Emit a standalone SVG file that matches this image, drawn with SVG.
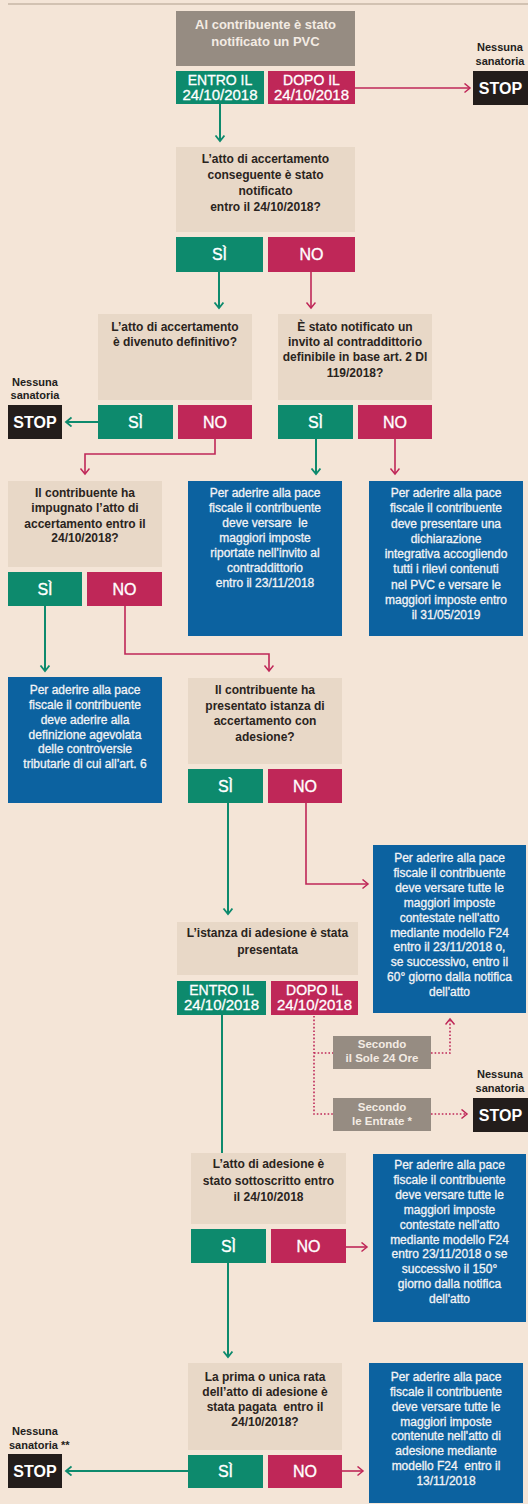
<svg xmlns="http://www.w3.org/2000/svg" width="528" height="1504" viewBox="0 0 528 1504">
<defs>
<style>
text{font-family:"Liberation Sans",Arial,sans-serif;text-anchor:middle}
.q{fill:#e8d8c7}
.gr{fill:#968c82}
.g{fill:#0d8a6d}
.m{fill:#bf2758}
.b{fill:#0c62a0}
.k{fill:#231d1b}
.qt{font-size:12px;font-weight:bold;fill:#2a2420}
.bt{font-size:12px;fill:#f3f3f5;stroke:#f3f3f5;stroke-width:0.3}
.wt{font-size:13px;font-weight:bold;fill:#f3ebe3}
.st{font-size:11.5px;font-weight:bold;fill:#f3ebe3}
.yn{font-size:16px;fill:#fff;stroke:#fff;stroke-width:0.35}
.d1{font-size:14px;fill:#fff;stroke:#fff;stroke-width:0.3}
.d2{font-size:15px;fill:#fff;stroke:#fff;stroke-width:0.3}
.stop{font-size:16px;font-weight:bold;fill:#fff}
.ns{font-size:11px;font-weight:bold;fill:#231d1b}
.cg{stroke:#0d8a6d;stroke-width:2;fill:none}
.cm{stroke:#bf2758;stroke-width:1.6;fill:none}
.cd{stroke:#bf2758;stroke-width:1.6;fill:none;stroke-dasharray:1.6 2}
</style>
<marker id="ag" markerUnits="userSpaceOnUse" markerWidth="8" markerHeight="12" refX="6" refY="5" orient="auto"><path d="M0.5,0.5 L6,5 L0.5,9.5" fill="none" stroke="#0d8a6d" stroke-width="1.8"/></marker>
<marker id="am" markerUnits="userSpaceOnUse" markerWidth="8" markerHeight="12" refX="6" refY="5" orient="auto"><path d="M0.5,0.5 L6,5 L0.5,9.5" fill="none" stroke="#bf2758" stroke-width="1.5"/></marker>
</defs>
<rect width="528" height="1504" fill="#f4e5d7"/>
<line x1="8" y1="4" x2="528" y2="4" stroke="#c7b6a6" stroke-width="1.5"/>

<g id="connectors">
<line class="cg" x1="220" y1="104" x2="220" y2="141" marker-end="url(#ag)"/>
<line class="cm" x1="355" y1="88" x2="470" y2="88" marker-end="url(#am)"/>
<line class="cg" x1="219" y1="272" x2="219" y2="308" marker-end="url(#ag)"/>
<line class="cm" x1="311" y1="272" x2="311" y2="308" marker-end="url(#am)"/>
<line class="cg" x1="98" y1="422" x2="66" y2="422" marker-end="url(#ag)"/>
<polyline class="cm" points="215,439 215,454 85,454 85,474" marker-end="url(#am)"/>
<line class="cg" x1="316" y1="439" x2="316" y2="474" marker-end="url(#ag)"/>
<line class="cm" x1="395" y1="439" x2="395" y2="474" marker-end="url(#am)"/>
<line class="cg" x1="45" y1="606" x2="45" y2="671" marker-end="url(#ag)"/>
<polyline class="cm" points="125,606 125,654 269,654 269,671" marker-end="url(#am)"/>
<line class="cg" x1="228" y1="803" x2="228" y2="914" marker-end="url(#ag)"/>
<polyline class="cm" points="306,803 306,884 368,884" marker-end="url(#am)"/>
<line class="cg" x1="222" y1="1015" x2="222" y2="1153"/>
<polyline class="cd" points="314,1016 314,1114 333,1114"/>
<line class="cd" x1="314" y1="1053" x2="333" y2="1053"/>
<polyline class="cd" points="431,1053 450,1053 450,1019" marker-end="url(#am)"/>
<line class="cd" x1="431" y1="1114" x2="467" y2="1114" marker-end="url(#am)"/>
<line class="cg" x1="228" y1="1263" x2="228" y2="1357" marker-end="url(#ag)"/>
<line class="cm" x1="346" y1="1247" x2="367" y2="1247" marker-end="url(#am)"/>
<line class="cg" x1="188" y1="1471" x2="66" y2="1471" marker-end="url(#ag)"/>
<line class="cm" x1="342" y1="1471" x2="363" y2="1471" marker-end="url(#am)"/>
</g>

<g id="n-pvc">
<rect class="gr" x="176" y="11" width="179" height="55"/>
<text class="wt" x="265.5" y="28.5">Al contribuente è stato</text>
<text class="wt" x="265.5" y="45.5">notificato un PVC</text>
</g>
<g id="n-pvc-entro">
<rect class="g" x="176" y="71" width="88" height="33"/>
<text class="d1" x="220" y="85">ENTRO IL</text>
<text class="d2" x="220" y="99.5">24/10/2018</text>
</g>
<g id="n-pvc-dopo">
<rect class="m" x="268" y="71" width="87" height="33"/>
<text class="d1" x="311.5" y="85">DOPO IL</text>
<text class="d2" x="311.5" y="99.5">24/10/2018</text>
</g>
<g id="n-stop1">
<text class="ns" x="500" y="51">Nessuna</text>
<text class="ns" x="500" y="65">sanatoria</text>
<rect class="k" x="473" y="71" width="55" height="34"/>
<text class="stop" x="500.5" y="94">STOP</text>
</g>

<g id="n-q1">
<rect class="q" x="176" y="147" width="179" height="85"/>
<text class="qt" x="265.5" y="163">L’atto di accertamento</text>
<text class="qt" x="265.5" y="179">conseguente è stato</text>
<text class="qt" x="265.5" y="195">notificato</text>
<text class="qt" x="265.5" y="211">entro il 24/10/2018?</text>
</g>
<g id="n-q1-si"><rect class="g" x="176" y="237" width="87" height="35"/><text class="yn" x="219.5" y="260">SÌ</text></g>
<g id="n-q1-no"><rect class="m" x="268" y="237" width="87" height="35"/><text class="yn" x="311.5" y="260">NO</text></g>

<g id="n-q2">
<rect class="q" x="98" y="314" width="154" height="86"/>
<text class="qt" x="175" y="331">L’atto di accertamento</text>
<text class="qt" x="175" y="346">è divenuto definitivo?</text>
</g>
<g id="n-q2-si"><rect class="g" x="98" y="405" width="75" height="34"/><text class="yn" x="135.5" y="427.5">SÌ</text></g>
<g id="n-q2-no"><rect class="m" x="178" y="405" width="74" height="34"/><text class="yn" x="215" y="427.5">NO</text></g>
<g id="n-stop2">
<text class="ns" x="35" y="386">Nessuna</text>
<text class="ns" x="35" y="399">sanatoria</text>
<rect class="k" x="8" y="405" width="54" height="34"/>
<text class="stop" x="35" y="428">STOP</text>
</g>

<g id="n-q3">
<rect class="q" x="278" y="314" width="154" height="86"/>
<text class="qt" x="355" y="331">È stato notificato un</text>
<text class="qt" x="355" y="346">invito al contraddittorio</text>
<text class="qt" x="355" y="361">definibile in base art. 2 Dl</text>
<text class="qt" x="355" y="377">119/2018?</text>
</g>
<g id="n-q3-si"><rect class="g" x="278" y="405" width="75" height="34"/><text class="yn" x="315.5" y="427.5">SÌ</text></g>
<g id="n-q3-no"><rect class="m" x="358" y="405" width="74" height="34"/><text class="yn" x="395" y="427.5">NO</text></g>

<g id="n-q4">
<rect class="q" x="8" y="481" width="154" height="86"/>
<text class="qt" x="85" y="497">Il contribuente ha</text>
<text class="qt" x="85" y="512">impugnato l’atto di</text>
<text class="qt" x="85" y="528">accertamento entro il</text>
<text class="qt" x="85" y="542">24/10/2018?</text>
</g>
<g id="n-q4-si"><rect class="g" x="8" y="572" width="74" height="34"/><text class="yn" x="45" y="594.5">SÌ</text></g>
<g id="n-q4-no"><rect class="m" x="87" y="572" width="75" height="34"/><text class="yn" x="124.5" y="594.5">NO</text></g>

<g id="n-r1">
<rect class="b" x="188" y="481" width="154" height="155"/>
<text class="bt" x="265" y="497">Per aderire alla pace</text>
<text class="bt" x="265" y="512">fiscale il contribuente</text>
<text class="bt" x="265" y="527" xml:space="preserve">deve versare  le</text>
<text class="bt" x="265" y="542">maggiori imposte</text>
<text class="bt" x="265" y="557">riportate nell’invito al</text>
<text class="bt" x="265" y="572">contraddittorio</text>
<text class="bt" x="265" y="587">entro il 23/11/2018</text>
</g>
<g id="n-r2">
<rect class="b" x="369" y="481" width="154" height="155"/>
<text class="bt" x="446" y="497">Per aderire alla pace</text>
<text class="bt" x="446" y="512.3">fiscale il contribuente</text>
<text class="bt" x="446" y="527.5">deve presentare una</text>
<text class="bt" x="446" y="542.8">dichiarazione</text>
<text class="bt" x="446" y="558">integrativa accogliendo</text>
<text class="bt" x="446" y="573.3">tutti i rilevi contenuti</text>
<text class="bt" x="446" y="588.5">nel PVC e versare le</text>
<text class="bt" x="446" y="603.8">maggiori imposte entro</text>
<text class="bt" x="446" y="619">il 31/05/2019</text>
</g>
<g id="n-r3">
<rect class="b" x="8" y="677" width="154" height="126"/>
<text class="bt" x="85" y="694">Per aderire alla pace</text>
<text class="bt" x="85" y="709">fiscale il contribuente</text>
<text class="bt" x="85" y="724">deve aderire alla</text>
<text class="bt" x="85" y="738.5">definizione agevolata</text>
<text class="bt" x="85" y="753">delle controversie</text>
<text class="bt" x="85" y="768">tributarie di cui all’art. 6</text>
</g>

<g id="n-q5">
<rect class="q" x="188" y="678" width="154" height="86"/>
<text class="qt" x="265" y="694">Il contribuente ha</text>
<text class="qt" x="265" y="710">presentato istanza di</text>
<text class="qt" x="265" y="725">accertamento con</text>
<text class="qt" x="265" y="741">adesione?</text>
</g>
<g id="n-q5-si"><rect class="g" x="188" y="769" width="75" height="34"/><text class="yn" x="225.5" y="791.5">SÌ</text></g>
<g id="n-q5-no"><rect class="m" x="268" y="769" width="74" height="34"/><text class="yn" x="305" y="791.5">NO</text></g>

<g id="n-r4">
<rect class="b" x="373" y="845" width="153" height="168"/>
<text class="bt" x="449.5" y="862">Per aderire alla pace</text>
<text class="bt" x="449.5" y="876.9">fiscale il contribuente</text>
<text class="bt" x="449.5" y="891.8">deve versare tutte le</text>
<text class="bt" x="449.5" y="906.7">maggiori imposte</text>
<text class="bt" x="449.5" y="921.6">contestate nell'atto</text>
<text class="bt" x="449.5" y="936.5">mediante modello F24</text>
<text class="bt" x="449.5" y="951.4">entro il 23/11/2018 o,</text>
<text class="bt" x="449.5" y="966.3">se successivo, entro il</text>
<text class="bt" x="449.5" y="981.2">60° giorno dalla notifica</text>
<text class="bt" x="449.5" y="996.1">dell'atto</text>
</g>

<g id="n-q6">
<rect class="q" x="177" y="922" width="181" height="53"/>
<text class="qt" x="267.5" y="937">L’istanza di adesione è stata</text>
<text class="qt" x="267.5" y="954">presentata</text>
</g>
<g id="n-q6-entro">
<rect class="g" x="177" y="981" width="89" height="34"/>
<text class="d1" x="221.5" y="995">ENTRO IL</text>
<text class="d2" x="221.5" y="1009.5">24/10/2018</text>
</g>
<g id="n-q6-dopo">
<rect class="m" x="271" y="981" width="87" height="34"/>
<text class="d1" x="314.5" y="995">DOPO IL</text>
<text class="d2" x="314.5" y="1009.5">24/10/2018</text>
</g>
<g id="n-sole">
<rect class="gr" x="333" y="1036" width="98" height="33"/>
<text class="st" x="382" y="1048">Secondo</text>
<text class="st" x="382" y="1062">il Sole 24 Ore</text>
</g>
<g id="n-entrate">
<rect class="gr" x="333" y="1098" width="98" height="33"/>
<text class="st" x="382" y="1111">Secondo</text>
<text class="st" x="382" y="1124.5">le Entrate *</text>
</g>
<g id="n-stop3">
<text class="ns" x="500" y="1078">Nessuna</text>
<text class="ns" x="500" y="1092">sanatoria</text>
<rect class="k" x="473" y="1098" width="55" height="34"/>
<text class="stop" x="500.5" y="1121">STOP</text>
</g>

<g id="n-q7">
<rect class="q" x="191" y="1153" width="155" height="71"/>
<text class="qt" x="268.5" y="1168">L’atto di adesione è</text>
<text class="qt" x="268.5" y="1185">stato sottoscritto entro</text>
<text class="qt" x="268.5" y="1201">il 24/10/2018</text>
</g>
<g id="n-q7-si"><rect class="g" x="191" y="1229" width="75" height="34"/><text class="yn" x="228.5" y="1251.5">SÌ</text></g>
<g id="n-q7-no"><rect class="m" x="271" y="1229" width="75" height="34"/><text class="yn" x="308.5" y="1251.5">NO</text></g>

<g id="n-r5">
<rect class="b" x="373" y="1154" width="153" height="168"/>
<text class="bt" x="449.5" y="1169">Per aderire alla pace</text>
<text class="bt" x="449.5" y="1183.9">fiscale il contribuente</text>
<text class="bt" x="449.5" y="1198.8">deve versare tutte le</text>
<text class="bt" x="449.5" y="1213.7">maggiori imposte</text>
<text class="bt" x="449.5" y="1228.6">contestate nell'atto</text>
<text class="bt" x="449.5" y="1243.5">mediante modello F24</text>
<text class="bt" x="449.5" y="1258.4">entro 23/11/2018 o se</text>
<text class="bt" x="449.5" y="1273.3">successivo il 150°</text>
<text class="bt" x="449.5" y="1288.2">giorno dalla notifica</text>
<text class="bt" x="449.5" y="1303.1">dell'atto</text>
</g>

<g id="n-q8">
<rect class="q" x="188" y="1363" width="154" height="87"/>
<text class="qt" x="265" y="1381">La prima o unica rata</text>
<text class="qt" x="265" y="1396">dell’atto di adesione è</text>
<text class="qt" x="265" y="1411" xml:space="preserve">stata pagata  entro il</text>
<text class="qt" x="265" y="1426">24/10/2018?</text>
</g>
<g id="n-q8-si"><rect class="g" x="188" y="1455" width="75" height="33"/><text class="yn" x="225.5" y="1477">SÌ</text></g>
<g id="n-q8-no"><rect class="m" x="268" y="1455" width="74" height="33"/><text class="yn" x="305" y="1477">NO</text></g>
<g id="n-stop4">
<text class="ns" x="35" y="1435">Nessuna</text>
<text class="ns" x="9" y="1449" style="text-anchor:start">sanatoria **</text>
<rect class="k" x="8" y="1454" width="54" height="34"/>
<text class="stop" x="35" y="1477">STOP</text>
</g>

<g id="n-r6">
<rect class="b" x="369" y="1363" width="154" height="140"/>
<text class="bt" x="446" y="1381">Per aderire alla pace</text>
<text class="bt" x="446" y="1395.9">fiscale il contribuente</text>
<text class="bt" x="446" y="1410.7">deve versare tutte le</text>
<text class="bt" x="446" y="1425.6">maggiori imposte</text>
<text class="bt" x="446" y="1440.4">contenute nell'atto di</text>
<text class="bt" x="446" y="1455.3">adesione mediante</text>
<text class="bt" x="446" y="1470.2" xml:space="preserve">modello F24  entro il</text>
<text class="bt" x="446" y="1485">13/11/2018</text>
</g>
</svg>
